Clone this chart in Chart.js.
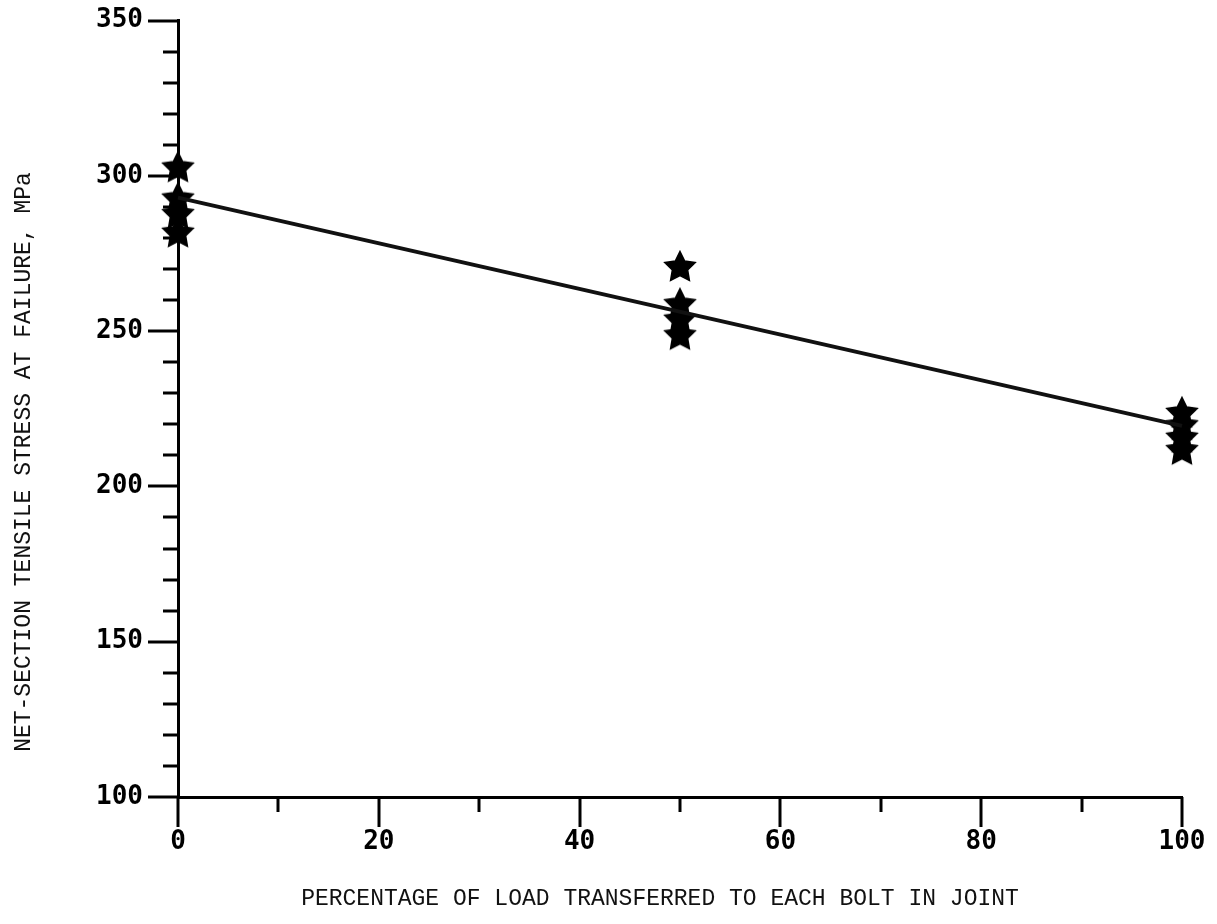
<!DOCTYPE html>
<html>
<head>
<meta charset="utf-8">
<script src="https://cdn.jsdelivr.net/npm/chart.js@4.4.1/dist/chart.umd.min.js"></script>
<style>
  html, body { margin: 0; padding: 0; background: #fff; }
  #wrap { width: 1217px; height: 924px; }
</style>
</head>
<body>
<div id="wrap"><canvas id="c" width="1217" height="924"></canvas></div>
<script>
// Test results: share of load carried by each bolt (%) and net-section stress at failure (MPa)
const loadPercent   = [0, 0, 0, 0, 50, 50, 50, 50, 100, 100, 100, 100];
const failureStress = [303, 293, 288, 282, 271, 259, 254, 249, 224, 220, 216, 212];

// Least-squares line through the tests
const fitPercent = [0, 100];
const fitStress  = [293, 219.5];

// Labelled tick values
const xTickLabels = [0, 20, 40, 60, 80, 100];
const yTickLabels = [100, 150, 200, 250, 300, 350];

const xTitle = 'PERCENTAGE OF LOAD TRANSFERRED TO EACH BOLT IN JOINT';
const yTitle = 'NET-SECTION TENSILE STRESS AT FAILURE, MPa';

// Filled five-pointed star used as the point marker
function makeStar(outer, inner) {
  const size = Math.ceil(outer * 2 + 4);
  const cv = document.createElement('canvas');
  cv.width = size; cv.height = size;
  const g = cv.getContext('2d');
  const c = size / 2;
  g.beginPath();
  for (let i = 0; i < 10; i++) {
    const r = i % 2 === 0 ? outer : inner;
    const a = -Math.PI / 2 + i * Math.PI / 5;
    const px = c + r * Math.cos(a), py = c + r * Math.sin(a) + 1.5;
    if (i === 0) g.moveTo(px, py); else g.lineTo(px, py);
  }
  g.closePath();
  g.fillStyle = '#000';
  g.fill();
  g.lineWidth = 1.5;
  g.strokeStyle = '#000';
  g.stroke();
  return cv;
}
const starImg = makeStar(16, 8);

const points = loadPercent.map((x, i) => ({ x, y: failureStress[i] }));
const fitLine = fitPercent.map((x, i) => ({ x, y: fitStress[i] }));

// Tick marks: long at labelled values, short in between; plus the axis titles
const axisDecor = {
  id: 'axisDecor',
  afterDraw(chart) {
    const g = chart.ctx;
    const xs = chart.scales.x, ys = chart.scales.y;
    g.save();
    g.strokeStyle = '#000';
    g.lineWidth = 3;
    g.lineCap = 'butt';
    for (let v = xs.min; v <= xs.max; v += 10) {
      const px = Math.round(xs.getPixelForValue(v));
      const len = xTickLabels.includes(v) ? 30 : 15;
      g.beginPath();
      g.moveTo(px, xs.top);
      g.lineTo(px, xs.top + len);
      g.stroke();
    }
    for (let v = ys.min; v <= ys.max; v += 10) {
      const py = Math.round(ys.getPixelForValue(v));
      const len = yTickLabels.includes(v) ? 30 : 15;
      g.beginPath();
      g.moveTo(ys.right - len, py);
      g.lineTo(ys.right, py);
      g.stroke();
    }
    g.fillStyle = '#111';
    g.font = '23px "Liberation Mono", monospace';
    g.textAlign = 'center';
    g.textBaseline = 'middle';
    g.fillText(xTitle, 660, 899);
    g.translate(24, 462);
    g.rotate(-Math.PI / 2);
    g.fillText(yTitle, 0, 0);
    g.restore();
  }
};

new Chart(document.getElementById('c'), {
  type: 'scatter',
  data: {
    datasets: [
      {
        type: 'line',
        data: fitLine,
        borderColor: '#111',
        borderWidth: 4,
        pointRadius: 0,
        fill: false,
        tension: 0,
        clip: false
      },
      {
        data: points,
        pointStyle: starImg,
        pointRadius: 17,
        backgroundColor: '#000',
        borderColor: '#000',
        clip: false
      }
    ]
  },
  options: {
    responsive: false,
    animation: false,
    layout: { padding: { top: 20, right: 35, left: 0, bottom: 0 } },
    plugins: {
      legend: { display: false },
      tooltip: { enabled: false }
    },
    scales: {
      x: {
        type: 'linear',
        min: 0, max: 100,
        afterFit(s) { s.height = 127; },
        border: { display: true, color: '#000', width: 3 },
        grid: { display: true, drawOnChartArea: false, drawTicks: true, tickLength: 30, color: 'rgba(0,0,0,0)' },
        ticks: {
          stepSize: 10,
          autoSkip: false,
          maxRotation: 0,
          padding: 0,
          color: '#000',
          font: { family: '"DejaVu Sans Mono", monospace', size: 26, weight: 'bold' },
          callback: v => xTickLabels.includes(v) ? String(v) : ''
        }
      },
      y: {
        type: 'linear',
        min: 100, max: 350,
        afterFit(s) { s.width = 178; },
        border: { display: true, color: '#000', width: 3 },
        grid: { display: true, drawOnChartArea: false, drawTicks: true, tickLength: 30, color: 'rgba(0,0,0,0)' },
        ticks: {
          stepSize: 10,
          autoSkip: false,
          padding: 5,
          color: '#000',
          font: { family: '"DejaVu Sans Mono", monospace', size: 26, weight: 'bold' },
          callback: v => yTickLabels.includes(v) ? String(v) : ''
        }
      }
    }
  },
  plugins: [axisDecor]
});
</script>
</body>
</html>
